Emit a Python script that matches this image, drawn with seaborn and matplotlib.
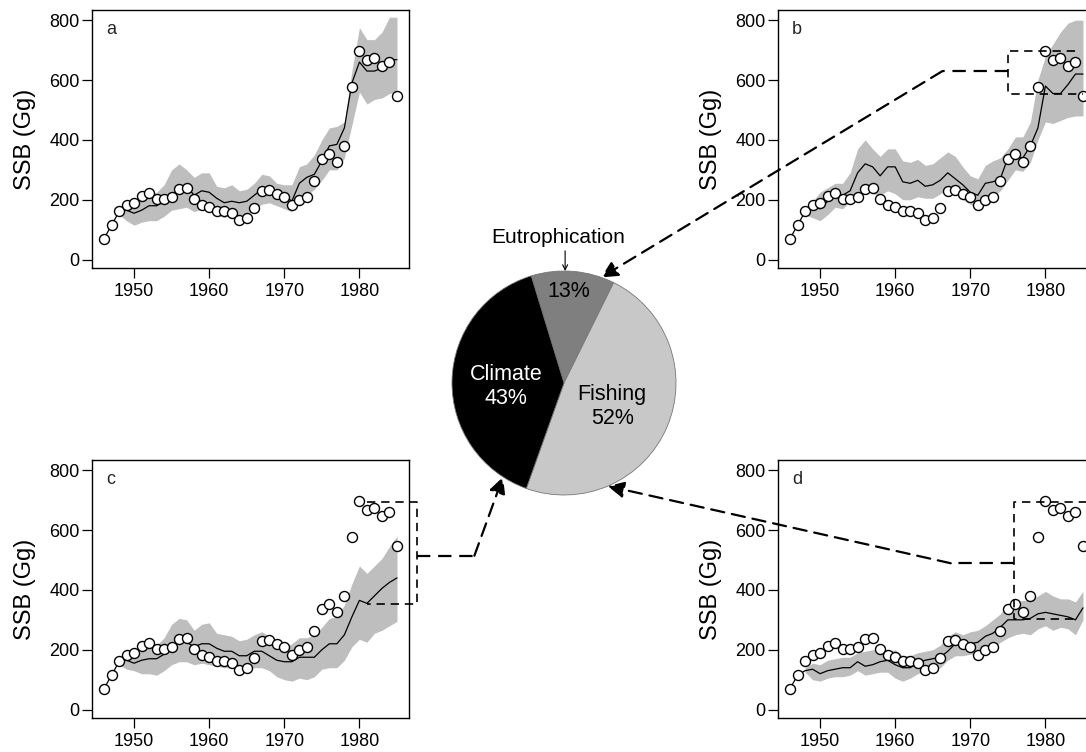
import numpy as np
import pandas as pd
import seaborn as sns
import matplotlib.pyplot as plt
from matplotlib.patches import ConnectionPatch

# observed SSB (circles), same in every panel
years = list(range(1946, 1986))
observed = [70, 114, 162, 181, 189, 214, 222, 202, 202, 209, 237, 240, 202, 183, 176,
            162, 162, 157, 133, 140, 171, 229, 234, 220, 209, 183, 198, 209, 262, 337,
            353, 326, 381, 578, 696, 668, 672, 646, 659, 546]

# uncertainty band starts in 1948
band_years = list(range(1948, 1986))

# a: all drivers
line_a = [70, 115, 160, 165, 155, 165, 180, 180, 195, 215, 235, 245, 215, 230, 225, 205,
          190, 195, 190, 195, 215, 235, 235, 225, 215, 195, 255, 275, 285, 330, 380, 385,
          440, 590, 660, 630, 630, 640, 668, 668]
lo_a = [150, 130, 115, 125, 130, 130, 145, 165, 170, 175, 160, 170, 165, 150, 140, 150,
        145, 150, 165, 185, 190, 180, 170, 160, 195, 215, 235, 265, 300, 300, 340, 450,
        560, 520, 535, 540, 555, 560]
hi_a = [165, 185, 190, 200, 215, 225, 250, 300, 320, 300, 275, 290, 290, 245, 240, 250,
        230, 235, 255, 285, 280, 255, 250, 250, 310, 320, 350, 400, 440, 445, 460, 630,
        775, 735, 735, 760, 810, 810]

# b: without eutrophication
line_b = [70, 115, 160, 175, 170, 195, 220, 215, 230, 290, 320, 310, 280, 310, 310, 260,
          255, 265, 245, 250, 265, 290, 270, 250, 225, 215, 255, 260, 270, 340, 345, 340,
          380, 440, 580, 555, 555, 585, 620, 620]
lo_b = [150, 140, 130, 150, 175, 170, 195, 225, 235, 220, 215, 230, 220, 200, 200, 210,
        205, 205, 220, 235, 225, 200, 185, 175, 200, 210, 230, 265, 300, 295, 325, 400,
        460, 455, 465, 475, 480, 480]
hi_b = [170, 195, 225, 240, 255, 255, 290, 370, 400, 370, 345, 370, 370, 330, 325, 335,
        315, 320, 340, 360, 345, 310, 280, 270, 315, 330, 340, 370, 410, 410, 460, 600,
        680, 720, 760, 790, 800, 800]

# c: without fishing change
line_c = [70, 115, 160, 165, 155, 165, 170, 170, 185, 210, 230, 225, 210, 220, 220, 205,
          195, 195, 180, 180, 195, 195, 180, 165, 160, 160, 175, 175, 175, 200, 220, 220,
          250, 310, 365, 355, 380, 405, 425, 440]
lo_c = [150, 135, 130, 120, 120, 115, 130, 150, 160, 160, 150, 155, 150, 145, 140, 140,
        135, 135, 140, 140, 130, 110, 100, 95, 105, 100, 110, 135, 140, 140, 165, 210,
        235, 225, 255, 265, 280, 295]
hi_c = [170, 180, 185, 195, 210, 215, 240, 285, 305, 300, 265, 285, 290, 255, 250, 245,
        230, 235, 250, 260, 245, 225, 210, 220, 240, 240, 250, 275, 305, 310, 350, 420,
        480, 455, 480, 505, 545, 580]

# d: without climate
line_d = [70, 115, 130, 135, 120, 130, 135, 140, 140, 160, 145, 150, 160, 165, 150, 140,
          140, 155, 165, 170, 175, 195, 220, 220, 220, 225, 245, 255, 275, 300, 300, 300,
          305, 320, 325, 320, 315, 310, 300, 340]
lo_d = [125, 100, 95, 105, 110, 110, 115, 130, 115, 120, 125, 125, 105, 95, 105, 120,
        130, 135, 140, 165, 180, 180, 185, 185, 200, 205, 225, 240, 250, 255, 250, 270,
        280, 265, 275, 270, 250, 300]
hi_d = [140, 155, 150, 165, 170, 175, 175, 190, 195, 200, 200, 195, 200, 180, 180, 190,
        195, 200, 215, 245, 260, 250, 260, 265, 280, 300, 320, 355, 360, 365, 365, 380,
        395, 380, 370, 370, 360, 395]

pie_labels = ['Eutrophication', 'Fishing', 'Climate']
pie_values = [13, 52, 43]
pie_colors = ['#7f7f7f', '#c8c8c8', '#000000']

sns.set_theme(style='white')
plt.rcParams['font.family'] = ['Liberation Sans', 'DejaVu Sans']

W, H = 1086, 752
fig = plt.figure(figsize=(W / 100, H / 100), dpi=100)


def px_axes(left, top, w, h):
    return fig.add_axes([left / W, 1 - (top + h) / H, w / W, h / H])


def draw_panel(ax, letter, line, lo, hi):
    ax.fill_between(band_years, lo, hi, color='#bebebe', lw=0, zorder=1)
    df = pd.DataFrame({'year': years, 'model': line, 'observed': observed})
    sns.lineplot(data=df, x='year', y='model', ax=ax, color='black', lw=0.9, zorder=2)
    sns.scatterplot(data=df, x='year', y='observed', ax=ax, s=52, facecolor='white',
                    edgecolor='black', linewidth=1.0, zorder=3)
    ax.set_xlim(1944.4, 1986.6)
    ax.set_ylim(-28, 834)
    ax.set_xticks([1950, 1960, 1970, 1980])
    ax.set_yticks([0, 200, 400, 600, 800])
    ax.tick_params(axis='both', direction='out', length=7, width=0.9,
                   labelsize=13, colors='black', left=True, bottom=True)
    ax.tick_params(axis='y', pad=2)
    ax.tick_params(axis='x', pad=4)
    for s in ax.spines.values():
        s.set_visible(True)
        s.set_color('black')
        s.set_linewidth(1.0)
    ax.set_xlabel('')
    ax.set_ylabel('SSB (Gg)', fontsize=17, color='black')
    ax.yaxis.label.set_va('center')
    ax.yaxis.set_label_coords(-67 / 316, 0.5)
    ax.text(0.045, 0.925, letter, transform=ax.transAxes, fontsize=13, va='center')


ax_a = px_axes(92, 10, 317, 258)
ax_b = px_axes(778, 10, 317, 258)
ax_c = px_axes(92, 460, 317, 258)
ax_d = px_axes(778, 460, 317, 258)

draw_panel(ax_a, 'a', line_a, lo_a, hi_a)
draw_panel(ax_b, 'b', line_b, lo_b, hi_b)
draw_panel(ax_c, 'c', line_c, lo_c, hi_c)
draw_panel(ax_d, 'd', line_d, lo_d, hi_d)

# pie of driver contributions
pie_ax = px_axes(452, 271, 224, 224)
pie_ax.pie(pie_values, colors=pie_colors, startangle=107, counterclock=False,
           wedgeprops=dict(edgecolor='#777777', linewidth=0.6))
pie_ax.set_xlim(-1, 1)
pie_ax.set_ylim(-1, 1)
pie_ax.text(-0.52, -0.03, 'Climate\n43%', color='white', ha='center', va='center',
            fontsize=15.5, linespacing=1.2)
pie_ax.text(0.43, -0.21, 'Fishing\n52%', color='black', ha='center', va='center',
            fontsize=15.5, linespacing=1.2)
pie_ax.text(0.04, 0.82, '13%', color='black', ha='center', va='center', fontsize=15.5)
pie_ax.text(-0.05, 1.30, 'Eutrophication', color='black', ha='center', va='center',
            fontsize=15, clip_on=False)
pie_ax.annotate('', xy=(0.01, 1.0), xytext=(0.01, 1.18), annotation_clip=False,
                arrowprops=dict(arrowstyle='->', lw=0.8, color='black',
                                shrinkA=0, shrinkB=0, mutation_scale=9))

dash_box = dict(color='black', lw=1.2, dashes=(5, 3.5), clip_on=False, zorder=4)
dash_con = dict(color='black', lw=1.6, dashes=(6, 3.5), clip_on=False, zorder=4)


def bracket(ax, x_edge, x_top, x_bot, y_lo, y_hi):
    ax.plot([x_top, x_edge, x_edge, x_bot], [y_hi, y_hi, y_lo, y_lo], **dash_box)


def connector(ax, start, bend, angle):
    ax.plot([start[0], bend[0]], [start[1], bend[1]], **dash_con)
    tip = (np.cos(np.radians(angle)), np.sin(np.radians(angle)))
    con = ConnectionPatch(xyA=bend, coordsA=ax.transData, xyB=tip, coordsB=pie_ax.transData,
                          arrowstyle='-|>,head_length=0.7,head_width=0.35',
                          mutation_scale=14, lw=1.6, linestyle=(0, (6, 3.5)),
                          color='black', shrinkA=0, shrinkB=0, zorder=5)
    fig.add_artist(con)


bracket(ax_b, 1975, 1984, 1985, 555, 697)
connector(ax_b, (1975, 630), (1966.3, 630), 70.6)

bracket(ax_c, 1987.7, 1981, 1981, 353, 694)
connector(ax_c, (1987.7, 514), (1995.3, 514), 237)

bracket(ax_d, 1975.8, 1987, 1984, 303, 694)
connector(ax_d, (1975.8, 489), (1967.4, 489), 293)

fig.savefig('out.png', dpi=100)
